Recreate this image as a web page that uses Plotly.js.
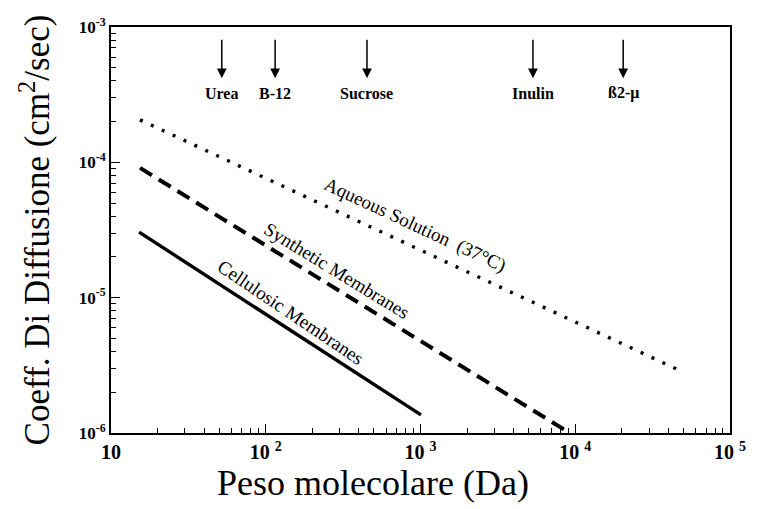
<!DOCTYPE html>
<html><head><meta charset="utf-8">
<script src="https://cdn.plot.ly/plotly-3.0.1.min.js"></script>
<style>html,body{margin:0;padding:0;background:#fff}</style>
</head><body>
<div id="chart" style="width:758px;height:509px"></div>
<script>
// Series endpoints (molecular weight in Da, diffusion coeff in cm^2/s)
const aqueousX = [15.4, 45500];
const aqueousY = [2.06e-4, 2.96e-6];
const syntheticX = [15.4, 8600];
const syntheticY = [9.1e-5, 1.05e-6];
const celluloseX = [15.2, 1007];
const celluloseY = [3.05e-5, 1.36e-6];

// Marker molecules along the top
const molecules = ["Urea", "B-12", "Sucrose", "Inulin", "ß2-\u03bc"];
const moleculeMW = [52, 115, 451, 5330, 20400];

// Tick labels
const xTickVals = [10, 100, 1000, 10000, 100000];
const xTickText = ["10", "10 <sup>2</sup>", "10 <sup>3</sup>", "10 <sup>4</sup>", "10 <sup>5</sup>"];
const yTickVals = [1e-6, 1e-5, 1e-4, 1e-3];
const yTickText = ["10<sup>-6</sup>", "10<sup>-5</sup>", "10<sup>-4</sup>", "10<sup>-3</sup>"];

// Axis titles
const xTitle = "Peso molecolare (Da)";
const yTitle = "Coeff. Di Diffusione (cm<sup>2</sup>/sec)";

// Curve labels
const curveLabels = ["Aqueous Solution  (37°C)", "Synthetic Membranes", "Cellulosic Membranes"];
const curveLabelX = [920, 288, 146];
const curveLabelY = [3.44e-5, 1.6e-5, 7.8e-6];
const curveLabelAngle = [25, 31.5, 34];

const serif = "Liberation Serif";

const traces = [
  {x: aqueousX, y: aqueousY, mode: "lines", line: {color: "#000", width: 3.4, dash: "3px,9px"}, hoverinfo: "skip"},
  {x: syntheticX, y: syntheticY, mode: "lines", line: {color: "#000", width: 4, dash: "14px,8px"}, hoverinfo: "skip"},
  {x: celluloseX, y: celluloseY, mode: "lines", line: {color: "#000", width: 3.4}, hoverinfo: "skip"}
];

const annotations = [];
molecules.forEach((m, i) => {
  annotations.push({x: Math.log10(moleculeMW[i]), y: 0.874, xref: "x", yref: "paper", text: "",
    showarrow: true, arrowhead: 2, arrowsize: 1.3, arrowwidth: 1.5, arrowcolor: "#000", ax: 0, ay: -40});
  annotations.push({x: Math.log10(moleculeMW[i]), y: 0.837, xref: "x", yref: "paper", text: "<b>" + m + "</b>",
    showarrow: false, font: {family: serif, size: 16, color: "#000"}, yanchor: "middle"});
});
curveLabels.forEach((t, i) => {
  annotations.push({x: Math.log10(curveLabelX[i]), y: Math.log10(curveLabelY[i]), xref: "x", yref: "y",
    text: t, showarrow: false, textangle: curveLabelAngle[i], font: {family: serif, size: 19, color: "#000"}});
});
annotations.push({x: 0.423, y: -0.123, xref: "paper", yref: "paper", text: xTitle, showarrow: false,
  xanchor: "center", yanchor: "middle", font: {family: serif, size: 36, color: "#000"}});

const layout = {
  width: 758, height: 509,
  margin: {l: 111, r: 28, t: 27, b: 76},
  paper_bgcolor: "#fff", plot_bgcolor: "#fff",
  showlegend: false,
  font: {family: serif, color: "#000"},
  xaxis: {
    type: "log", range: [1, 5], showgrid: false, zeroline: false,
    showline: true, linecolor: "#000", linewidth: 2, mirror: true,
    ticks: "inside", ticklen: 9, tickwidth: 1.3, tickcolor: "#000",
    tickmode: "array", tickvals: xTickVals, ticktext: xTickText.map(t => "<b>" + t + "</b>"),
    minor: {ticks: "inside", ticklen: 5, tickwidth: 1, tickcolor: "#000", dtick: "D1", showgrid: false},
    tickfont: {family: serif, size: 20, color: "#000"}
  },
  yaxis: {
    type: "log", range: [-6, -3], showgrid: false, zeroline: false,
    showline: true, linecolor: "#000", linewidth: 2, mirror: true,
    ticks: "inside", ticklen: 9, tickwidth: 1.3, tickcolor: "#000",
    tickmode: "array", tickvals: yTickVals, ticktext: yTickText.map(t => "<b>" + t + "</b>"),
    minor: {ticks: "inside", ticklen: 5, tickwidth: 1, tickcolor: "#000", dtick: "D1", showgrid: false},
    tickfont: {family: serif, size: 17, color: "#000"},
    title: {text: yTitle, font: {family: serif, size: 35, color: "#000"}, standoff: 18}
  },
  annotations: annotations
};

Plotly.newPlot("chart", traces, layout, {staticPlot: true, displayModeBar: false});
</script>
</body></html>
